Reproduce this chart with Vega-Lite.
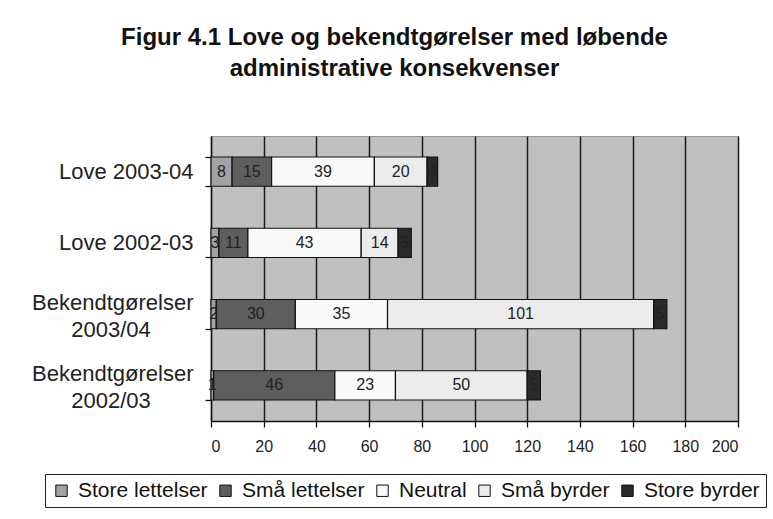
{
  "$schema": "https://vega.github.io/schema/vega-lite/v6.json",
  "width": 527,
  "height": 285,
  "autosize": {"type": "none"},
  "padding": {"left": 211, "top": 136, "right": 35, "bottom": 98},
  "background": "white",
  "title": {
    "text": ["Figur 4.1 Love og bekendtgørelser med løbende", "administrative konsekvenser"],
    "font": "Liberation Sans",
    "fontSize": 24,
    "fontWeight": "bold",
    "color": "#111111",
    "anchor": "middle",
    "frame": "group",
    "dx": -80,
    "offset": 32,
    "lineHeight": 31
  },
  "data": {
    "values": [
      {"cat": "Love 2003-04", "type": "Store lettelser", "k": 1, "value": 8},
      {"cat": "Love 2003-04", "type": "Små lettelser", "k": 2, "value": 15},
      {"cat": "Love 2003-04", "type": "Neutral", "k": 3, "value": 39},
      {"cat": "Love 2003-04", "type": "Små byrder", "k": 4, "value": 20},
      {"cat": "Love 2003-04", "type": "Store byrder", "k": 5, "value": 4},
      {"cat": "Love 2002-03", "type": "Store lettelser", "k": 1, "value": 3},
      {"cat": "Love 2002-03", "type": "Små lettelser", "k": 2, "value": 11},
      {"cat": "Love 2002-03", "type": "Neutral", "k": 3, "value": 43},
      {"cat": "Love 2002-03", "type": "Små byrder", "k": 4, "value": 14},
      {"cat": "Love 2002-03", "type": "Store byrder", "k": 5, "value": 5},
      {"cat": "Bekendtgørelser 2003/04", "type": "Store lettelser", "k": 1, "value": 2},
      {"cat": "Bekendtgørelser 2003/04", "type": "Små lettelser", "k": 2, "value": 30},
      {"cat": "Bekendtgørelser 2003/04", "type": "Neutral", "k": 3, "value": 35},
      {"cat": "Bekendtgørelser 2003/04", "type": "Små byrder", "k": 4, "value": 101},
      {"cat": "Bekendtgørelser 2003/04", "type": "Store byrder", "k": 5, "value": 5},
      {"cat": "Bekendtgørelser 2002/03", "type": "Store lettelser", "k": 1, "value": 1},
      {"cat": "Bekendtgørelser 2002/03", "type": "Små lettelser", "k": 2, "value": 46},
      {"cat": "Bekendtgørelser 2002/03", "type": "Neutral", "k": 3, "value": 23},
      {"cat": "Bekendtgørelser 2002/03", "type": "Små byrder", "k": 4, "value": 50},
      {"cat": "Bekendtgørelser 2002/03", "type": "Store byrder", "k": 5, "value": 5}
    ]
  },
  "transform": [
    {"stack": "value", "groupby": ["cat"], "sort": [{"field": "k", "order": "ascending"}], "as": ["x0", "x1"]},
    {"calculate": "(datum.x0 + datum.x1) / 2", "as": "mid"}
  ],
  "encoding": {
    "y": {
      "field": "cat",
      "type": "nominal",
      "sort": ["Love 2003-04", "Love 2002-03", "Bekendtgørelser 2003/04", "Bekendtgørelser 2002/03"],
      "title": null,
      "scale": {"paddingInner": 0.59, "paddingOuter": 0.295},
      "axis": {
        "domainColor": "#111111",
        "domainWidth": 1.3,
        "tickColor": "#111111",
        "tickWidth": 1.3,
        "tickSize": 6,
        "tickBand": "extent",
        "grid": false,
        "labelFont": "Liberation Sans",
        "labelFontSize": 22,
        "labelColor": "#222222",
        "labelBaseline": "bottom",
        "labelLineHeight": 3,
        "labelPadding": 12,
        "labelExpr": "indexof(datum.label, 'Bek') == 0 ? [split(datum.label, ' ')[0], '\u200b\u00a0\u200b', '\u200b\u00a0\u200b', '\u200b\u00a0\u200b', '\u200b\u00a0\u200b', '\u200b\u00a0\u200b', '\u200b\u00a0\u200b', '\u200b\u00a0\u200b', '\u200b\u00a0\u200b', split(datum.label, ' ')[1] + '\u00a0\u00a0\u00a0\u00a0\u00a0\u00a0\u00a0\u200b'] : ['\u200b\u00a0\u200b', '\u200b\u00a0\u200b', '\u200b\u00a0\u200b', '\u200b\u00a0\u200b', datum.label]"
      }
    }
  },
  "layer": [
    {
      "mark": {"type": "bar", "stroke": "#111111", "strokeWidth": 1.2},
      "encoding": {
        "x": {
          "field": "x0",
          "type": "quantitative",
          "scale": {"domain": [0, 200], "nice": false},
          "title": null,
          "axis": {
            "values": [0, 20, 40, 60, 80, 100, 120, 140, 160, 180, 200],
            "grid": true,
            "gridColor": "#1a1a1a",
            "gridWidth": 1.5,
            "domainColor": "#111111",
            "domainWidth": 1.3,
            "tickColor": "#111111",
            "tickWidth": 1.3,
            "tickSize": 6,
            "labelFont": "Liberation Sans",
            "labelFontSize": 16,
            "labelColor": "#222222",
            "labelPadding": 11
          }
        },
        "x2": {"field": "x1"},
        "color": {
          "field": "type",
          "type": "nominal",
          "scale": {
            "domain": ["Store lettelser", "Små lettelser", "Neutral", "Små byrder", "Store byrder"],
            "range": ["#a3a3a3", "#5e5e5e", "#f9f9f9", "#ececec", "#2a2a2a"]
          },
          "legend": {
            "title": null,
            "orient": "none",
            "legendX": -166,
            "legendY": 338,
            "direction": "horizontal",
            "columns": 5,
            "strokeColor": "#222222",
            "padding": 6,
            "symbolType": "square",
            "symbolSize": 130,
            "symbolStrokeColor": "#111111",
            "symbolStrokeWidth": 1,
            "labelFont": "Liberation Sans",
            "labelFontSize": 21,
            "labelColor": "#111111",
            "labelOffset": 6,
            "columnPadding": 7
          }
        }
      }
    },
    {
      "mark": {"type": "text", "font": "Liberation Sans", "fontSize": 16, "color": "#222222", "baseline": "middle", "align": "center"},
      "encoding": {
        "x": {"field": "mid", "type": "quantitative"},
        "text": {"field": "value", "type": "quantitative"}
      }
    }
  ],
  "config": {
    "view": {"fill": "#c0c0c0", "stroke": "#999999"}
  }
}
